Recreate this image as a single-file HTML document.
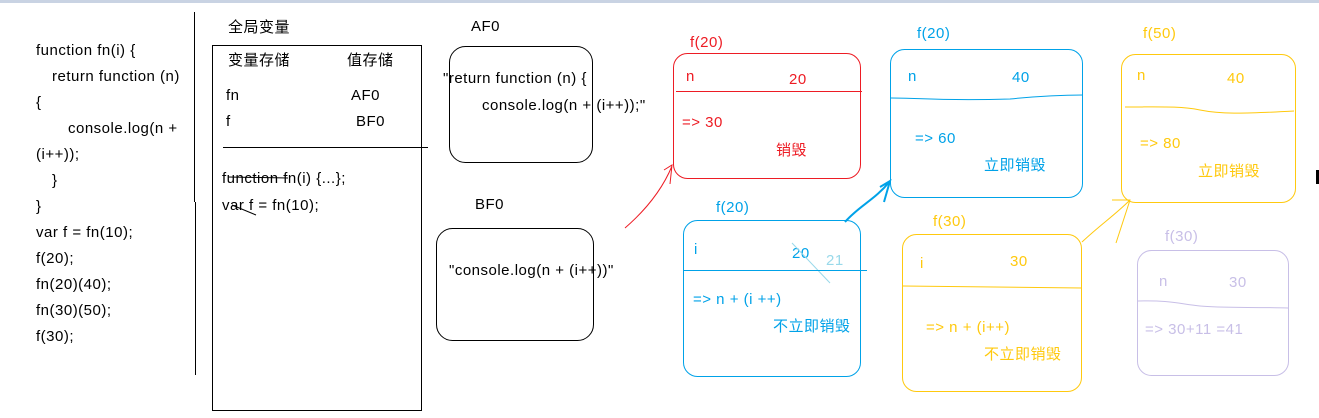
<!DOCTYPE html>
<html><head><meta charset="utf-8"><style>
html,body{margin:0;padding:0;background:#fff;width:1319px;height:418px;overflow:hidden}
svg text{font-family:"Liberation Sans","Noto Sans CJK SC",sans-serif;font-size:15px;letter-spacing:0.5px}
</style></head><body>
<svg width="1319" height="418" xmlns="http://www.w3.org/2000/svg">
<rect x="0" y="0" width="1319" height="3" fill="#c9d3e3"/>
<!-- code -->
<g fill="#000">
<text x="36" y="55">function fn(i) {</text>
<text x="52" y="81">return function (n)</text>
<text x="36" y="107">{</text>
<text x="68" y="133">console.log(n +</text>
<text x="36" y="159">(i++));</text>
<text x="52" y="185">}</text>
<text x="36" y="211">}</text>
<text x="36" y="237">var f = fn(10);</text>
<text x="36" y="263">f(20);</text>
<text x="36" y="289">fn(20)(40);</text>
<text x="36" y="315">fn(30)(50);</text>
<text x="36" y="341">f(30);</text>
</g>
<line x1="194.5" y1="12" x2="194.5" y2="202" stroke="#000"/>
<line x1="195.5" y1="202" x2="195.5" y2="375" stroke="#000"/>
<!-- global -->
<text x="228" y="32">全局变量</text>
<rect x="212.5" y="45.5" width="209" height="365" fill="none" stroke="#000"/>
<text x="228" y="65">变量存储</text><text x="347" y="65">值存储</text>
<text x="226" y="100">fn</text><text x="351" y="100">AF0</text>
<text x="226" y="126">f</text><text x="356" y="126">BF0</text>
<line x1="223" y1="147.5" x2="428" y2="147.5" stroke="#000"/>
<text x="222" y="183">function fn(i) {...};</text>
<line x1="228" y1="177" x2="288" y2="178" stroke="#000"/>
<text x="222" y="210">var f = fn(10);</text>
<path d="M232 205 L256 215" stroke="#000" fill="none"/>
<!-- AF0 / BF0 -->
<text x="471" y="31">AF0</text>
<rect x="449.5" y="46.5" width="143" height="116" rx="16" fill="none" stroke="#000"/>
<text x="443" y="83">"return function (n) {</text>
<text x="482" y="110">console.log(n + (i++));"</text>
<text x="475" y="209">BF0</text>
<rect x="436.5" y="228.5" width="157" height="112" rx="16" fill="none" stroke="#000"/>
<text x="449" y="275">"console.log(n + (i++))"</text>
<!-- red -->
<g fill="#ed1c24">
<text x="690" y="47">f(20)</text>
<text x="686" y="81">n</text><text x="789" y="84">20</text>
<text x="682" y="127">=&gt; 30</text>
<text x="776" y="155">销毁</text>
</g>
<rect x="673.5" y="53.5" width="187" height="125" rx="14" fill="none" stroke="#ed1c24"/>
<line x1="676" y1="91.5" x2="862" y2="91.5" stroke="#ed1c24"/>
<path d="M625 228 C640 215 660 195 672 166 M664 170 L672 165 L670 184" stroke="#ed1c24" fill="none"/>
<!-- blue top -->
<g fill="#00a2e8">
<text x="917" y="38">f(20)</text>
<text x="908" y="81">n</text><text x="1012" y="82">40</text>
<text x="915" y="143">=&gt; 60</text>
<text x="984" y="170">立即销毁</text>
</g>
<rect x="890.5" y="49.5" width="192" height="148" rx="14" fill="none" stroke="#00a2e8"/>
<path d="M891 98 C920 98 940 101 1010 99 C1040 96 1060 95 1083 95" stroke="#00a2e8" fill="none"/>
<path d="M845 222 C860 205 875 200 890 181 M880 187 L890 181 L884 202" stroke="#00a2e8" stroke-width="2" fill="none"/>
<!-- blue bottom -->
<g fill="#00a2e8">
<text x="716" y="212">f(20)</text>
<text x="694" y="254">i</text><text x="792" y="258">20</text>
<text x="693" y="304">=&gt; n + (i ++)</text>
<text x="773" y="331">不立即销毁</text>
</g>
<text x="826" y="265" fill="#99d9ea">21</text>
<line x1="792" y1="243" x2="830" y2="283" stroke="#99d9ea"/>
<rect x="683.5" y="220.5" width="177" height="156" rx="14" fill="none" stroke="#00a2e8"/>
<line x1="684" y1="270.5" x2="867" y2="270.5" stroke="#00a2e8"/>
<!-- yellow f(50) -->
<g fill="#ffc90e">
<text x="1143" y="38">f(50)</text>
<text x="1137" y="80">n</text><text x="1227" y="83">40</text>
<text x="1140" y="148">=&gt; 80</text>
<text x="1198" y="176">立即销毁</text>
</g>
<rect x="1121.5" y="54.5" width="174" height="148" rx="14" fill="none" stroke="#ffc90e"/>
<path d="M1125 107 C1160 107 1180 106 1200 110 C1220 114 1240 114 1294 111" stroke="#ffc90e" fill="none"/>
<!-- yellow f(30) -->
<g fill="#ffc90e">
<text x="933" y="226">f(30)</text>
<text x="920" y="268">i</text><text x="1010" y="266">30</text>
<text x="926" y="332">=&gt; n + (i++)</text>
<text x="984" y="359">不立即销毁</text>
</g>
<rect x="902.5" y="234.5" width="179" height="157" rx="14" fill="none" stroke="#ffc90e"/>
<path d="M903 286 C930 286 960 287 1082 288" stroke="#ffc90e" fill="none"/>
<path d="M1082 242 C1100 225 1115 215 1130 200 M1112 200 L1130 200 L1116 243" stroke="#ffc90e" fill="none"/>
<!-- purple -->
<g fill="#c8bfe7">
<text x="1165" y="241">f(30)</text>
<text x="1159" y="286">n</text><text x="1229" y="287">30</text>
<text x="1145" y="334">=&gt; 30+11 =41</text>
</g>
<rect x="1137.5" y="250.5" width="151" height="125" rx="14" fill="none" stroke="#c8bfe7"/>
<path d="M1138 301 C1170 300 1180 304 1200 306 C1220 308 1250 307 1288 308" stroke="#c8bfe7" fill="none"/>
<rect x="1316" y="170" width="3" height="14" fill="#000"/>
</svg>
</body></html>
